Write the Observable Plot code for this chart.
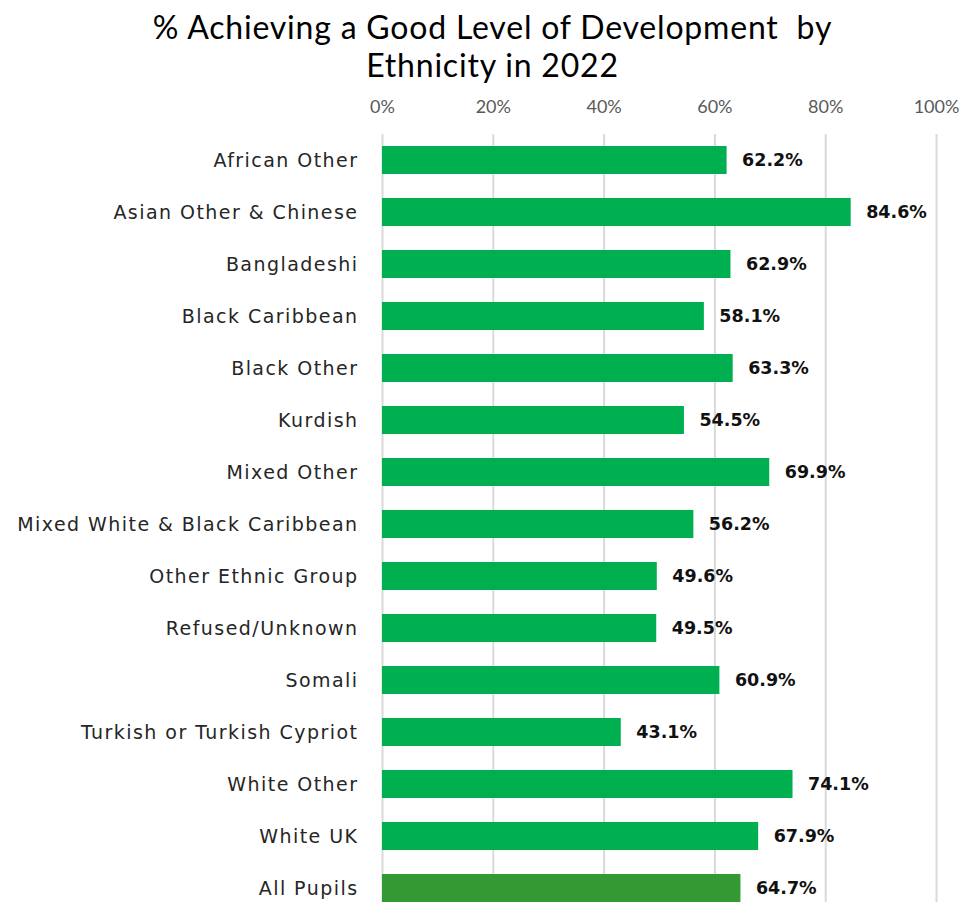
<!DOCTYPE html>
<html>
<head>
<meta charset="utf-8">
<script src="https://cdn.jsdelivr.net/npm/d3@7"></script>
<script src="https://cdn.jsdelivr.net/npm/@observablehq/plot@0.6"></script>
<style>
  body { margin: 0; background: #fff; }
  #title { width: 967px; height: 88px; box-sizing: border-box; padding-top: 8px; text-align: center; padding-left: 18px;
    font-family: Lato, sans-serif; font-size: 32px; letter-spacing: 0.8px; line-height: 38px; color: #000; }
  svg { display: block; }
  g[aria-label="y-axis tick label"] { letter-spacing: 1.45px; }
</style>
</head>
<body>
<div id="title">% Achieving a Good Level of Development&nbsp; by<br>Ethnicity in 2022</div>
<div id="chart"></div>
<script>
const categories = [
  "African Other", "Asian Other & Chinese", "Bangladeshi", "Black Caribbean",
  "Black Other", "Kurdish", "Mixed Other", "Mixed White & Black Caribbean",
  "Other Ethnic Group", "Refused/Unknown", "Somali", "Turkish or Turkish Cypriot",
  "White Other", "White UK", "All Pupils"
];
const values = [62.2, 84.6, 62.9, 58.1, 63.3, 54.5, 69.9, 56.2, 49.6, 49.5, 60.9, 43.1, 74.1, 67.9, 64.7];
const xTicks = [0, 20, 40, 60, 80, 100];

const data = categories.map((c, i) => ({category: c, value: values[i]}));

const chart = Plot.plot({
  width: 967,
  height: 826,
  marginTop: 46,
  marginBottom: 0,
  marginLeft: 382,
  marginRight: 31,
  x: {domain: [0, 100]},
  y: {domain: categories, paddingInner: 0.46, paddingOuter: 0.23},
  style: {background: "#fff"},
  marks: [
    Plot.ruleX(xTicks, {stroke: "#d9d9d9", strokeWidth: 2}),
    Plot.barX(data, {
      x: "value", y: "category",
      fill: d => d.category === "All Pupils" ? "#339933" : "#00b050"
    }),
    Plot.text(data, {
      x: "value", y: "category", text: d => d.value.toFixed(1) + "%",
      dx: 15, textAnchor: "start", fontWeight: "bold", fill: "#111",
      fontFamily: "DejaVu Sans", fontSize: 17.5
    }),
    Plot.axisX({
      anchor: "top", ticks: xTicks, tickSize: 0, tickPadding: 0, label: null,
      tickFormat: d => d + "%", fontFamily: "Lato", fontSize: 18, fill: "#595959", dy: -22
    }),
    Plot.axisY({
      tickSize: 0, tickPadding: 24, label: null,
      fontFamily: "DejaVu Sans", fontSize: 19, fill: "#262626"
    })
  ]
});
document.getElementById("chart").appendChild(chart);
</script>
</body>
</html>
